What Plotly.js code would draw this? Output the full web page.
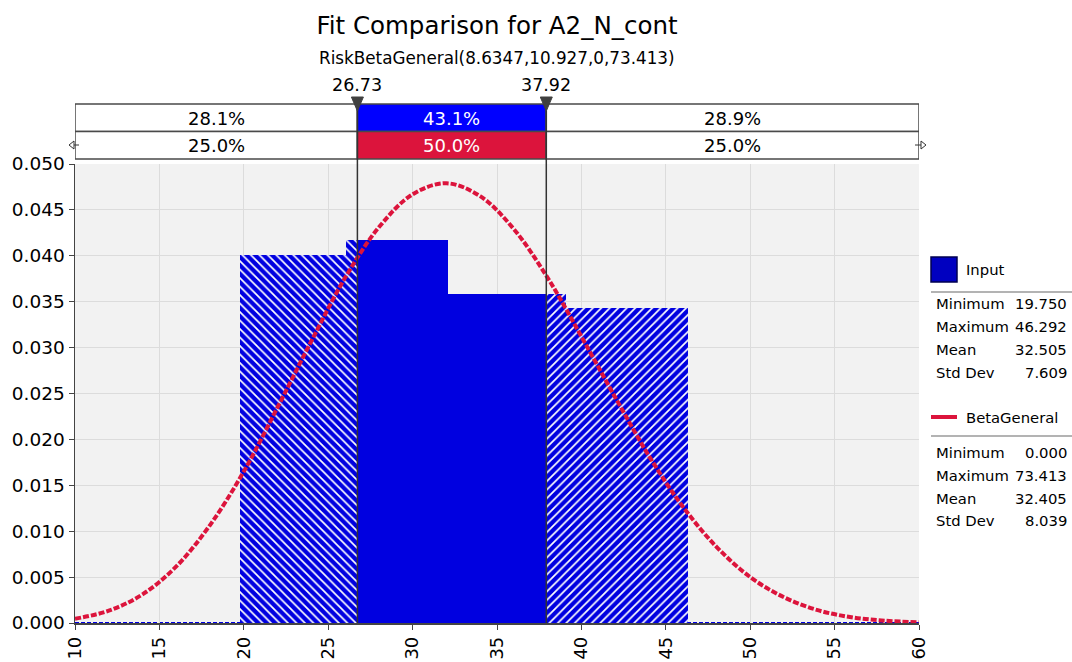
<!DOCTYPE html>
<html>
<head>
<meta charset="utf-8">
<script src="https://cdn.plot.ly/plotly-3.0.1.min.js"></script>
<style>html,body{margin:0;padding:0;background:#fff;}#chart{width:1072px;height:662px;}</style>
</head>
<body>
<div id="chart"></div>
<script>
// ---- data ----
const binEdges   = [19.75, 26.08, 32.12, 39.06, 46.29];
const binHeights = [0.0401, 0.0417, 0.0358, 0.0343];
const bandLimits = [26.73, 37.92];
const inputPct   = [28.1, 43.1, 28.9];
const fitPct     = [25.0, 50.0, 25.0];
const fitX = [10,12,14,16,18,20,22,24,26,28,30,32,34,36,38,40,42,44,46,48,50,52,54,56,58,60];
const fitY = [0.00046,0.00134,0.00312,0.00616,0.01067,0.0165,0.0235,0.0307,0.0376,0.0431,0.0467,0.0479,
              0.0465,0.0429,0.0376,0.0312,0.0246,0.0182,0.0127,0.0083,0.0050,0.0028,0.0014,0.00063,0.00025,0.00008];
const statLabels = ['Minimum','Maximum','Mean','Std Dev'];
const inputStats = [19.750, 46.292, 32.505, 7.609];
const fitStats   = [0.000, 73.413, 32.405, 8.039];
const xTicks = [10,15,20,25,30,35,40,45,50,55,60];

// ---- geometry helpers (pixel -> paper) ----
const L=75, R=919, T=164, B=623, W=R-L, H=B-T;
const px = p => (p-L)/W;
const py = p => (B-p)/H;
const FONT = 'DejaVu Sans, Verdana, sans-serif';
const BLUE = '#0000E0', RED = '#DC143C';

// ---- split histogram bins by band limits ----
const segs = {left:{x:[],w:[],y:[]}, mid:{x:[],w:[],y:[]}, right:{x:[],w:[],y:[]}};
function addSeg(key,a,b,h){ if(b>a){ segs[key].x.push((a+b)/2); segs[key].w.push(b-a); segs[key].y.push(h);} }
for(let i=0;i<binHeights.length;i++){
  const a=binEdges[i], b=binEdges[i+1], h=binHeights[i];
  addSeg('left', a, Math.min(b,bandLimits[0]), h);
  addSeg('mid', Math.max(a,bandLimits[0]), Math.min(b,bandLimits[1]), h);
  addSeg('right', Math.max(a,bandLimits[1]), b, h);
}
const traces = [
  {type:'bar', x:segs.left.x, y:segs.left.y, width:segs.left.w, showlegend:false, hoverinfo:'skip',
   marker:{color:BLUE, line:{width:0}, pattern:{shape:'\\', fgcolor:'#ffffff', bgcolor:BLUE, size:6, solidity:0.28}}},
  {type:'bar', x:segs.mid.x, y:segs.mid.y, width:segs.mid.w, showlegend:false, hoverinfo:'skip',
   marker:{color:BLUE, line:{width:0}}},
  {type:'bar', x:segs.right.x, y:segs.right.y, width:segs.right.w, showlegend:false, hoverinfo:'skip',
   marker:{color:BLUE, line:{width:0}, pattern:{shape:'/', fgcolor:'#ffffff', bgcolor:BLUE, size:6, solidity:0.28}}},
  {type:'scatter', mode:'lines', x:fitX, y:fitY, showlegend:false, hoverinfo:'skip', cliponaxis:true,
   line:{color:RED, width:4, shape:'spline', dash:'6px,2px'}}
];

// ---- shapes ----
const shapes = [];
const boxLine = {color:'#4a4a4a', width:1.5};
const rowTop = py(104), rowMid = py(131.5), rowBot = py(159);
const segX = [[10,bandLimits[0]],[bandLimits[0],bandLimits[1]],[bandLimits[1],60]];
const row1Fill = ['#ffffff','#0000FF','#ffffff'];
const row2Fill = ['#ffffff',RED,'#ffffff'];
segX.forEach((s,i)=>{
  shapes.push({type:'rect', xref:'x', yref:'paper', x0:s[0], x1:s[1], y0:rowMid, y1:rowTop, fillcolor:row1Fill[i], line:boxLine, layer:'above'});
  shapes.push({type:'rect', xref:'x', yref:'paper', x0:s[0], x1:s[1], y0:rowBot, y1:rowMid, fillcolor:row2Fill[i], line:boxLine, layer:'above'});
});
// baseline dashed line of the input histogram
shapes.push({type:'line', xref:'paper', yref:'y', x0:0, x1:1, y0:0, y1:0, line:{color:BLUE, width:2, dash:'4px,2px'}, layer:'below'});
// band limit markers
bandLimits.forEach(v=>{
  shapes.push({type:'line', xref:'x', yref:'paper', x0:v, x1:v, y0:0, y1:rowTop, line:{color:'#333333', width:1.5}, layer:'above'});
  const hw = 6/ (W/50);
  shapes.push({type:'path', xref:'x', yref:'paper', layer:'above',
    path:`M ${v-hw},${py(97)} L ${v+hw},${py(97)} L ${v},${py(111)} Z`, fillcolor:'#404040', line:{color:'#404040', width:1}});
});
// small arrows at the ends of row 2
shapes.push({type:'path', xref:'paper', yref:'paper', layer:'above', line:{color:'#333', width:1}, fillcolor:'#fff',
  path:`M ${px(69)},${py(145)} L ${px(74)},${py(141)} L ${px(74)},${py(149)} Z M ${px(74)},${py(145)} L ${px(79)},${py(145)}`});
shapes.push({type:'path', xref:'paper', yref:'paper', layer:'above', line:{color:'#333', width:1}, fillcolor:'#fff',
  path:`M ${px(926)},${py(145)} L ${px(921)},${py(141)} L ${px(921)},${py(149)} Z M ${px(921)},${py(145)} L ${px(915)},${py(145)}`});
// legend graphics
shapes.push({type:'rect', xref:'paper', yref:'paper', x0:px(931), x1:px(957), y0:py(282), y1:py(257), fillcolor:'#0000C0', line:{color:'#000050', width:1.5}});
shapes.push({type:'line', xref:'paper', yref:'paper', x0:px(931), x1:px(1072), y0:py(292), y1:py(292), line:{color:'#9a9a9a', width:1.5}});
shapes.push({type:'line', xref:'paper', yref:'paper', x0:px(931), x1:px(957), y0:py(417), y1:py(417), line:{color:RED, width:4}});
shapes.push({type:'line', xref:'paper', yref:'paper', x0:px(931), x1:px(1072), y0:py(436), y1:py(436), line:{color:'#9a9a9a', width:1.5}});

// ---- annotations ----
const ann = [];
const A = (o)=>ann.push(Object.assign({showarrow:false, xanchor:'center', yanchor:'middle', font:{family:FONT, size:17.5, color:'#000'}}, o));
A({xref:'paper', yref:'paper', x:0.5, y:py(58), text:'RiskBetaGeneral(8.6347,10.927,0,73.413)', font:{family:FONT, size:16.8, color:'#000'}});
bandLimits.forEach(v=>A({xref:'x', yref:'paper', x:v, y:py(85), text:v.toFixed(2)}));
segX.forEach((s,i)=>{
  A({xref:'x', yref:'paper', x:(s[0]+s[1])/2, y:py(118), text:inputPct[i].toFixed(1)+'%', font:{family:FONT, size:18, color: i===1?'#fff':'#000'}});
  A({xref:'x', yref:'paper', x:(s[0]+s[1])/2, y:py(145), text:fitPct[i].toFixed(1)+'%', font:{family:FONT, size:18, color: i===1?'#fff':'#000'}});
});
const LF = {family:FONT, size:14.8, color:'#000'};
A({xref:'paper', yref:'paper', x:px(964), y:py(269), xanchor:'left', text:'Input', font:LF});
A({xref:'paper', yref:'paper', x:px(964), y:py(417), xanchor:'left', text:'BetaGeneral', font:LF});
const rows1=[303,326,349,372], rows2=[452,475,498,520];
statLabels.forEach((lab,i)=>{
  A({xref:'paper', yref:'paper', x:px(934), y:py(rows1[i]), xanchor:'left', text:lab, font:LF});
  A({xref:'paper', yref:'paper', x:px(1069), y:py(rows1[i]), xanchor:'right', text:inputStats[i].toFixed(3), font:LF});
  A({xref:'paper', yref:'paper', x:px(934), y:py(rows2[i]), xanchor:'left', text:lab, font:LF});
  A({xref:'paper', yref:'paper', x:px(1069), y:py(rows2[i]), xanchor:'right', text:fitStats[i].toFixed(3), font:LF});
});

const layout = {
  width:1072, height:662,
  margin:{l:L, r:1072-R, t:T, b:662-B, pad:0},
  paper_bgcolor:'#ffffff', plot_bgcolor:'#f2f2f2',
  barmode:'overlay', bargap:0,
  showlegend:false,
  title:{text:'Fit Comparison for A2_N_cont', font:{family:FONT, size:24.5, color:'#000'},
         x:0.5, xref:'paper', xanchor:'center', y:1-25/662, yref:'container', yanchor:'middle'},
  xaxis:{range:[10,60], tickvals:xTicks, ticktext:xTicks.map(String), tickangle:-90, automargin:false,
         showgrid:true, gridcolor:'#dcdcdc', gridwidth:1, zeroline:false,
         showline:true, linecolor:'#444', linewidth:1.5, ticks:'outside', ticklen:5, tickcolor:'#444',
         tickfont:{family:FONT, size:18, color:'#000'}},
  yaxis:{range:[0,0.05], dtick:0.005, tick0:0, tickformat:'.3f', automargin:false,
         showgrid:true, gridcolor:'#dcdcdc', gridwidth:1, zeroline:false,
         showline:true, linecolor:'#444', linewidth:1.5, ticks:'outside', ticklen:5, tickcolor:'#444',
         tickfont:{family:FONT, size:18.5, color:'#000'}},
  shapes:shapes,
  annotations:ann
};
Plotly.newPlot('chart', traces, layout, {staticPlot:true, displayModeBar:false});
</script>
</body>
</html>
